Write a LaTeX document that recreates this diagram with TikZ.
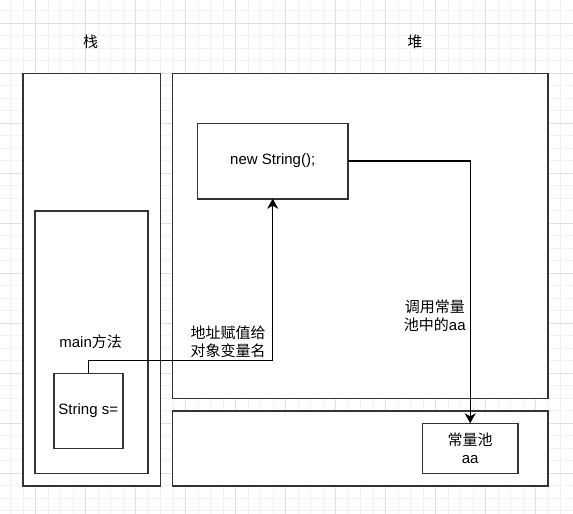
\documentclass[tikz,border=0pt]{standalone}
\usepackage{fontspec}
\setmainfont{Liberation Sans}
\newfontfamily\cjk{Noto Sans CJK SC}
\usetikzlibrary{arrows.meta}
\definecolor{gridminor}{HTML}{F2F2F2}
\definecolor{gridmajor}{HTML}{E0E0E0}
\definecolor{boxline}{HTML}{333333}
\tikzset{
  box/.style={draw=boxline, line width=1.6pt, fill=white, inner sep=0pt, outer sep=0pt, rectangle},
  txt/.style={inner sep=0pt, font=\fontsize{15}{17.7}\selectfont, align=center, text=black},
  conn/.style={draw=black, line width=1.4pt, -{Stealth[length=10pt,width=11pt,inset=3pt]}},
}
\begin{document}
\begin{tikzpicture}[x=1pt,y=-1pt]
\useasboundingbox (0,0) rectangle (573,514);
\fill[white] (0,0) rectangle (573,514);
% grid
\foreach \i in {0,...,45} {
  \draw[gridminor, line width=0.8pt] (10.7+12.5*\i,0) -- (10.7+12.5*\i,514);
}
\foreach \i in {0,...,41} {
  \draw[gridminor, line width=0.8pt] (0,10.8+12.5*\i) -- (573,10.8+12.5*\i);
}
\foreach \i in {0,...,11} {
  \draw[gridmajor, line width=0.8pt] (35.7+50*\i,0) -- (35.7+50*\i,514);
}
\foreach \i in {0,...,10} {
  \draw[gridmajor, line width=0.8pt] (0,23.3+50*\i) -- (573,23.3+50*\i);
}
% titles
\node[txt] (tstack) at (90.6,41.7) {\cjk 栈};
\node[txt] (theap) at (414.8,41.7) {\cjk 堆};
% boxes
\node[box, minimum width=137.8pt, minimum height=412.7pt] (stack) at (91.6,279.7) {};
\node[box, minimum width=375.4pt, minimum height=325pt] (heap) at (360.2,235.8) {};
\node[box, minimum width=375.4pt, minimum height=75pt] (poolarea) at (360.2,448.5) {};
\node[box, minimum width=150.6pt, minimum height=75.4pt, txt] (newstr) at (272.7,161) {new String();};
\node[box, minimum width=112.9pt, minimum height=262.6pt] (mainbox) at (91.55,342) {};
\node[txt] (mainlbl) at (90.6,341.7) {main{\cjk 方法}};
\node[box, minimum width=69.1pt, minimum height=75pt, txt] (strs) at (88.25,410.8) {String s=};
\node[box, minimum width=95.4pt, minimum height=50pt, txt] (pool) at (470.2,448.3) {{\cjk 常量池}\\aa};
% connectors
\coordinate (bend1) at (88.25,360.7);
\draw[conn] (strs.north) -- (bend1) -| (newstr.south);
\draw[conn] (newstr.east) -| (pool.north);
% labels
\node[txt] (lbl1) at (228,342) {\cjk 地址赋值给\\\cjk 对象变量名};
\node[txt] (lbl2) at (434.8,316) {\cjk 调用常量\\{\cjk 池中的}aa};
\end{tikzpicture}
\end{document}
